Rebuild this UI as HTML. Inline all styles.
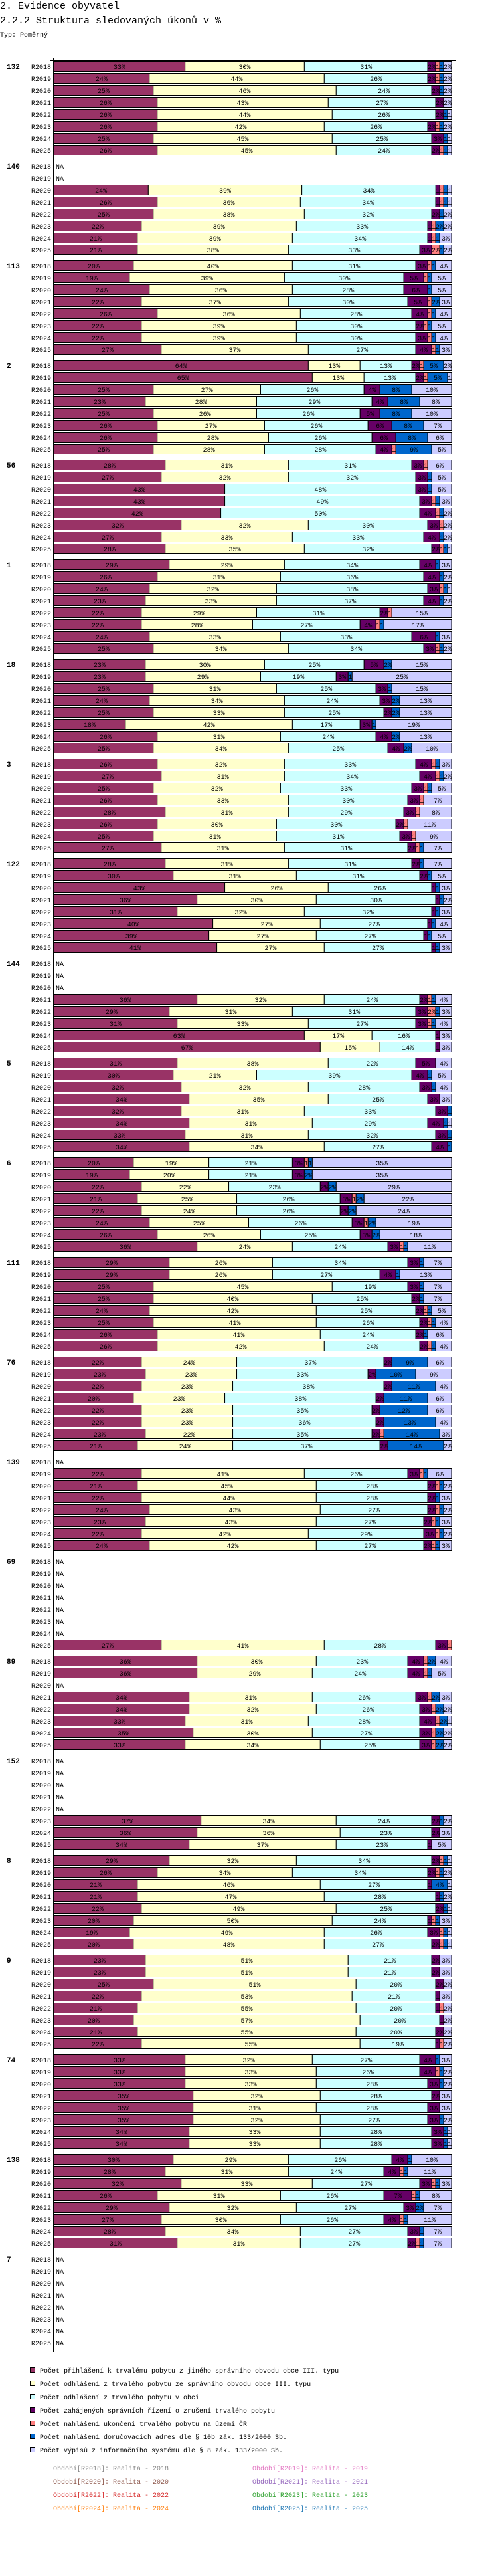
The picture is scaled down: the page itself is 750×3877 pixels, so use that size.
<!DOCTYPE html>
<html><head><meta charset="utf-8"><title>Struktura sledovaných úkonů</title>
<style>
html,body{margin:0;padding:0;background:#fff;}
body{width:750px;height:3872px;overflow:hidden;font-family:"Liberation Mono",monospace;}
svg text{font-family:"Liberation Mono",monospace;}
</style></head>
<body>
<svg id="chart" width="750" height="3872" xmlns="http://www.w3.org/2000/svg">
<text x="0" y="13" font-size="15" fill="#000">2. Evidence obyvatel</text>
<text x="0" y="35" font-size="15" fill="#000">2.2.2 Struktura sledovaných úkonů v %</text>
<text x="0" y="55" font-size="10" fill="#000">Typ: Poměrný</text>
</svg>
<script>
const groupIds = ["132","140","113","2","56","1","18","3","122","144","5","6","111","76","139","69","89","152","8","9","74","138","7"];
const years = ["R2018","R2019","R2020","R2021","R2022","R2023","R2024","R2025"];
const seriesNames = [
 "Počet přihlášení k trvalému pobytu z jiného správního obvodu obce III. typu",
 "Počet odhlášení z trvalého pobytu ze správního obvodu obce III. typu",
 "Počet odhlášení z trvalého pobytu v obci",
 "Počet zahájených správních řízení o zrušení trvalého pobytu",
 "Počet nahlášení ukončení trvalého pobytu na území ČR",
 "Počet nahlášení doručovacích adres dle § 10b zák. 133/2000 Sb.",
 "Počet výpisů z informačního systému dle § 8 zák. 133/2000 Sb."];
const seriesColors = ["#993366","#ffffcc","#ccffff","#660066","#ff8080","#0066cc","#ccccff"];
const periodLabels = ["Období[R2018]: Realita - 2018","Období[R2019]: Realita - 2019","Období[R2020]: Realita - 2020","Období[R2021]: Realita - 2021","Období[R2022]: Realita - 2022","Období[R2023]: Realita - 2023","Období[R2024]: Realita - 2024","Období[R2025]: Realita - 2025"];
const periodColors = ["#888888","#e377c2","#8c564b","#9467bd","#d62728","#2ca02c","#ff7f0e","#1f77b4"];
const NA = null;
const values = [
 [[33,30,31,2,1,1,2],[24,44,26,2,1,1,2],[25,46,24,2,0,1,2],[26,43,27,2,0,0,2],[26,44,26,2,0,1,1],[26,42,26,2,1,1,2],[25,45,25,3,0,1,1],[26,45,24,2,1,1,1]],
 [NA,NA,[24,39,34,1,1,1,1],[26,36,34,1,1,1,1],[25,38,32,2,0,1,2],[22,39,33,1,1,2,2],[21,39,34,1,1,1,3],[21,38,33,3,2,1,2]],
 [[20,40,31,3,1,1,4],[19,39,30,5,1,1,5],[24,36,28,6,0,1,5],[22,37,30,5,1,2,3],[26,36,28,4,1,1,4],[22,39,30,2,1,1,5],[22,39,30,3,1,1,4],[27,37,27,4,1,1,3]],
 [[64,13,13,2,1,5,2],[65,13,13,2,1,5,1],[25,27,26,4,0,8,10],[23,28,29,4,0,8,8],[25,26,26,5,0,8,10],[26,27,26,6,0,8,7],[26,28,26,6,0,8,6],[25,28,28,4,1,9,5]],
 [[28,31,31,3,1,0,6],[27,32,32,3,0,1,5],[43,0,48,3,0,1,5],[43,0,49,3,1,1,3],[42,0,50,4,1,1,2],[32,32,30,3,1,0,2],[27,33,33,4,0,1,2],[28,35,32,2,1,1,1]],
 [[29,29,34,4,0,1,3],[26,31,36,4,0,1,2],[24,32,38,3,1,1,1],[23,33,37,4,0,1,2],[22,29,31,2,1,0,15],[22,28,27,4,1,1,17],[24,33,33,6,0,1,3],[25,34,34,3,1,1,2]],
 [[23,30,25,5,0,2,15],[23,29,19,3,0,1,25],[25,31,25,3,0,1,15],[24,34,24,3,0,2,13],[25,33,25,2,0,2,13],[18,42,17,3,0,1,19],[26,31,24,4,0,2,13],[25,34,25,4,0,2,10]],
 [[26,32,33,4,1,1,3],[27,31,34,4,1,1,2],[25,32,33,3,1,1,5],[26,33,30,3,1,0,7],[28,31,29,3,1,0,8],[26,30,30,2,1,0,11],[25,31,31,3,1,0,9],[27,31,31,2,1,1,7]],
 [[28,31,31,2,0,1,7],[30,31,31,2,0,1,5],[43,26,26,1,0,1,3],[36,30,30,1,0,1,2],[31,32,32,1,0,1,3],[40,27,27,1,0,1,4],[39,27,27,1,0,1,5],[41,27,27,1,0,1,3]],
 [NA,NA,NA,[36,32,24,2,1,1,4],[29,31,31,3,2,1,3],[31,33,27,3,1,1,4],[63,17,16,1,0,0,3],[67,15,14,1,0,0,3]],
 [[31,38,22,5,0,0,4],[30,21,39,4,0,1,5],[32,32,28,3,0,1,4],[34,35,25,3,0,0,3],[32,31,33,3,0,1,0],[34,31,29,4,0,1,1],[33,31,32,3,0,1,0],[34,34,27,4,0,1,0]],
 [[20,19,21,3,1,1,35],[19,20,21,3,0,2,35],[22,22,23,2,0,2,29],[21,25,26,3,1,2,22],[22,24,26,2,0,2,24],[24,25,26,3,1,2,19],[26,26,25,3,0,2,18],[36,24,24,3,1,1,11]],
 [[29,26,34,3,0,1,7],[29,26,27,4,0,1,13],[25,45,19,3,0,1,7],[25,40,25,2,0,1,7],[24,42,25,2,1,1,5],[25,41,26,2,1,1,4],[26,41,24,2,0,1,6],[26,42,24,2,1,1,4]],
 [[22,24,37,2,0,9,6],[23,23,33,2,0,10,9],[22,23,38,2,0,11,4],[20,23,38,2,0,11,6],[22,23,35,2,0,12,6],[22,23,36,2,0,13,4],[23,22,35,2,1,14,3],[21,24,37,2,0,14,2]],
 [NA,[22,41,26,3,1,1,6],[21,45,28,2,1,1,2],[22,44,28,2,0,1,3],[24,43,27,2,1,1,2],[23,43,27,2,1,1,3],[22,42,29,3,1,1,2],[24,42,27,2,1,1,3]],
 [NA,NA,NA,NA,NA,NA,NA,[27,41,28,3,1,0,0]],
 [[36,30,23,4,1,2,4],[36,29,24,4,1,1,5],NA,[34,31,26,3,1,2,3],[34,32,26,3,1,2,2],[33,31,28,4,1,2,1],[35,30,27,3,1,2,2],[33,34,25,3,1,2,2]],
 [NA,NA,NA,NA,NA,[37,34,24,2,0,1,2],[36,36,23,2,0,0,3],[34,37,23,1,0,0,5]],
 [[29,32,34,2,1,1,1],[26,34,34,2,1,1,2],[21,46,27,1,0,4,1],[21,47,28,1,0,1,2],[22,49,25,2,0,1,1],[20,50,24,1,1,1,3],[19,49,26,3,1,1,1],[20,48,27,2,1,1,1]],
 [[23,51,21,2,0,0,3],[23,51,21,2,0,0,3],[25,51,20,2,0,0,2],[22,53,21,1,0,0,3],[21,55,20,1,1,0,2],[20,57,20,1,0,0,2],[21,55,20,2,0,0,2],[22,55,19,1,1,0,2]],
 [[33,32,27,4,0,1,3],[33,33,26,4,1,1,2],[33,33,28,3,0,1,2],[35,32,28,2,0,0,3],[35,31,28,3,0,0,3],[35,32,27,3,0,1,2],[34,33,28,3,0,1,1],[34,33,28,3,0,1,1]],
 [[30,29,26,4,0,1,10],[28,31,24,4,1,1,11],[32,33,27,3,1,1,3],[26,31,26,7,1,1,8],[29,32,27,3,0,2,7],[27,30,26,4,1,1,11],[28,34,27,3,0,1,7],[31,31,27,2,1,1,7]],
 [NA,NA,NA,NA,NA,NA,NA,NA]
];

const NS = "http://www.w3.org/2000/svg";
const svg = document.getElementById("chart");
const X0 = 81, W = 599, TOP = 92, ROW = 18, GROUP = 150, BH = 15;
function xScale(p){ return X0 + p * W / 100; }
function yRow(g, r){ return TOP + g * GROUP + r * ROW; }
function mk(tag, attrs){ const e = document.createElementNS(NS, tag); for (const k in attrs) e.setAttribute(k, attrs[k]); svg.appendChild(e); return e; }

// axis
let ax = mk("line", {x1: X0, y1: TOP - 4, x2: X0, y2: yRow(groupIds.length - 1, 8) + 4, stroke: "#000", "stroke-width": 2});


let tl = mk("line", {x1: X0 - 5, y1: TOP - 0.5, x2: 686, y2: TOP - 0.5, stroke: "#000", "stroke-width": 1});



groupIds.forEach((gid, g) => {
  const gl = mk("text", {x: 10, y: yRow(g, 0) + 12, "font-size": 11, "font-weight": "bold", fill: "#000"});
  gl.textContent = gid;
  
  
  years.forEach((yr, r) => {
    const y = yRow(g, r);
    const yl = mk("text", {x: 77, y: y + 12, "font-size": 10, "text-anchor": "end", fill: "#000"});
    yl.textContent = yr;
    
    
    const row = values[g][r];
    if (!row) {
      const na = mk("text", {x: 84, y: y + 12, "font-size": 10, fill: "#000"});
      na.textContent = "NA";
      
      
      return;
    }
    const sum = row.reduce((a, b) => a + b, 0);
    let acc = 0;
    row.forEach((v, s) => {
      if (v <= 0) return;
      const x1 = xScale(acc / sum * 100), x2 = xScale((acc + v) / sum * 100);
      acc += v;
      const rect = mk("rect", {x: x1, y: y + 0.5, width: x2 - x1, height: BH, fill: seriesColors[s], stroke: "#000", "stroke-width": 1});
      
      
      const t = mk("text", {x: (x1 + x2) / 2, y: y + 12, "font-size": 10, "text-anchor": "middle", fill: "#000"});
      t.textContent = v >= 2 ? v + "%" : "1";
      
      
    });
  });
});

// legend
seriesNames.forEach((n, i) => {
  const y = 3563 + i * 20;
  const sq = mk("rect", {x: 45.5, y: y + 0.5, width: 7, height: 7, fill: seriesColors[i], stroke: "#000", "stroke-width": 1});
  
  
  const t = mk("text", {x: 60, y: y + 8, "font-size": 10, fill: "#000"});
  t.textContent = n;
  
  
});
periodLabels.forEach((p, i) => {
  const t = mk("text", {x: i % 2 ? 380 : 80, y: 3718 + Math.floor(i / 2) * 20, "font-size": 10, fill: periodColors[i]});
  t.textContent = p;
  
  
});
</script>
</body></html>
